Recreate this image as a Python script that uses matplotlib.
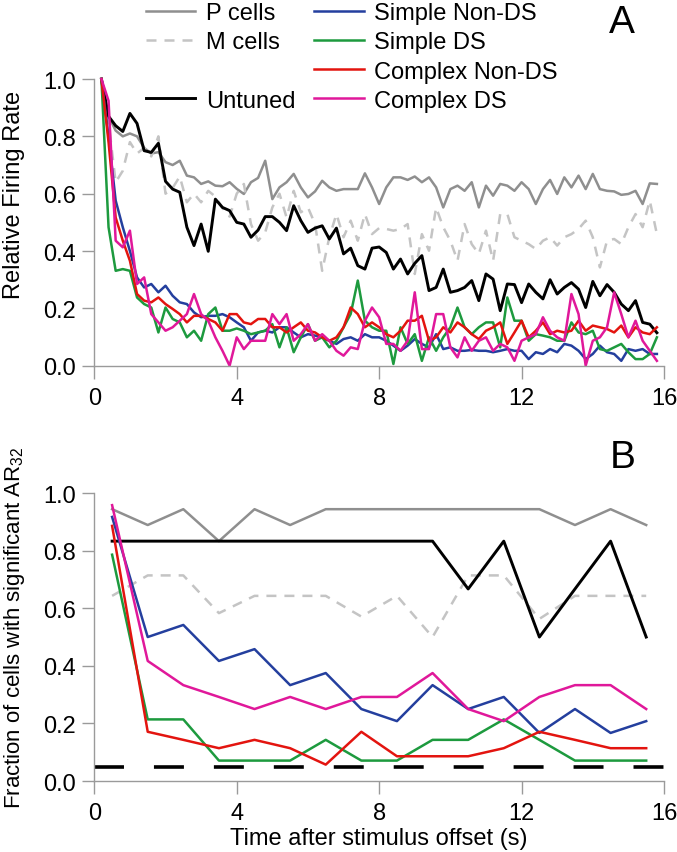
import numpy as np
import matplotlib
matplotlib.use("Agg")
import matplotlib.pyplot as plt
from matplotlib.lines import Line2D

plt.rcParams["font.family"] = ["Liberation Sans", "DejaVu Sans"]
plt.rcParams["mathtext.fontset"] = "custom"
plt.rcParams["mathtext.rm"] = "Liberation Sans"
plt.rcParams["mathtext.default"] = "regular"

# ---- panel A: relative firing rate, 0.2 s bins ----
time_a = np.round(np.arange(1, 80) * 0.2, 1)

p_cells_a = [
    1.0, 0.87, 0.82, 0.80, 0.81, 0.80, 0.76, 0.74, 0.745, 0.71,
    0.70, 0.715, 0.663, 0.657, 0.634, 0.643, 0.628, 0.626, 0.64, 0.617,
    0.599, 0.64, 0.655, 0.715, 0.581, 0.622, 0.64, 0.669, 0.622, 0.587,
    0.608, 0.645, 0.622, 0.61, 0.616, 0.616, 0.616, 0.671, 0.622, 0.564,
    0.622, 0.657, 0.657, 0.648, 0.66, 0.64, 0.657, 0.622, 0.552, 0.616,
    0.628, 0.61, 0.64, 0.552, 0.628, 0.593, 0.634, 0.628, 0.61, 0.64,
    0.616, 0.564, 0.616, 0.648, 0.599, 0.657, 0.622, 0.663, 0.616, 0.669,
    0.616, 0.61, 0.608, 0.596, 0.599, 0.61, 0.564, 0.636, 0.634,
]
m_cells_a = [
    1.0, 0.85, 0.64, 0.68, 0.78, 0.74, 0.76, 0.73, 0.80, 0.60,
    0.62, 0.66, 0.57, 0.60, 0.57, 0.61, 0.59, 0.55, 0.52, 0.60,
    0.634, 0.494, 0.436, 0.465, 0.552, 0.60, 0.517, 0.61, 0.535, 0.552,
    0.494, 0.331, 0.448, 0.529, 0.448, 0.506, 0.436, 0.529, 0.459, 0.48,
    0.477, 0.471, 0.477, 0.494, 0.32, 0.459, 0.401, 0.552, 0.483, 0.436,
    0.366, 0.494, 0.424, 0.39, 0.471, 0.366, 0.529, 0.529, 0.448, 0.436,
    0.424, 0.407, 0.436, 0.448, 0.419, 0.448, 0.459, 0.477, 0.506, 0.448,
    0.343, 0.436, 0.442, 0.424, 0.483, 0.529, 0.483, 0.576, 0.459,
]
untuned_a = [
    1.0, 0.87, 0.837, 0.817, 0.88, 0.845, 0.75, 0.744, 0.776, 0.643,
    0.616, 0.605, 0.483, 0.419, 0.494, 0.399, 0.581, 0.552, 0.541, 0.50,
    0.494, 0.448, 0.473, 0.52, 0.52, 0.50, 0.471, 0.558, 0.506, 0.465,
    0.48, 0.488, 0.442, 0.48, 0.39, 0.41, 0.349, 0.337, 0.41, 0.414,
    0.395, 0.337, 0.372, 0.32, 0.357, 0.384, 0.262, 0.273, 0.337, 0.256,
    0.262, 0.273, 0.297, 0.227, 0.32, 0.302, 0.192, 0.285, 0.283, 0.22,
    0.285, 0.256, 0.233, 0.30, 0.25, 0.273, 0.29, 0.267, 0.203, 0.294,
    0.244, 0.283, 0.256, 0.215, 0.192, 0.227, 0.151, 0.145, 0.115,
]
simple_nds_a = [
    1.0, 0.80, 0.576, 0.483, 0.40, 0.308, 0.273, 0.285, 0.256, 0.279,
    0.244, 0.221, 0.215, 0.186, 0.169, 0.174, 0.174, 0.18, 0.169, 0.151,
    0.134, 0.087, 0.116, 0.122, 0.116, 0.134, 0.134, 0.116, 0.099, 0.11,
    0.105, 0.099, 0.087, 0.076, 0.093, 0.099, 0.087, 0.11, 0.099, 0.099,
    0.087, 0.07, 0.052, 0.07, 0.093, 0.076, 0.064, 0.11, 0.058, 0.064,
    0.052, 0.052, 0.055, 0.052, 0.052, 0.047, 0.052, 0.058, 0.052, 0.052,
    0.023, 0.047, 0.041, 0.058, 0.047, 0.076, 0.07, 0.052, 0.023, 0.041,
    0.07, 0.047, 0.041, 0.017, 0.058, 0.052, 0.058, 0.041, 0.041,
]
simple_ds_a = [
    1.0, 0.483, 0.331, 0.337, 0.331, 0.238, 0.215, 0.203, 0.116, 0.203,
    0.163, 0.151, 0.099, 0.122, 0.087, 0.18, 0.203, 0.122, 0.122, 0.13,
    0.122, 0.11, 0.116, 0.122, 0.145, 0.064, 0.134, 0.047, 0.099, 0.145,
    0.087, 0.099, 0.064, 0.087, 0.134, 0.18, 0.297, 0.157, 0.134, 0.122,
    0.122, 0.006, 0.134, 0.076, 0.11, 0.017, 0.099, 0.052, 0.099, 0.134,
    0.203, 0.134, 0.11, 0.134, 0.151, 0.151, 0.064, 0.238, 0.157, 0.157,
    0.087, 0.11, 0.105, 0.099, 0.087, 0.087, 0.151, 0.116, 0.11, 0.122,
    0.058, 0.052, 0.064, 0.076, 0.047, 0.023, 0.023, 0.041, 0.099,
]
complex_nds_a = [
    1.0, 0.78, 0.517, 0.436, 0.366, 0.25, 0.227, 0.221, 0.238, 0.215,
    0.198, 0.18, 0.151, 0.174, 0.174, 0.163, 0.151, 0.122, 0.18, 0.18,
    0.151, 0.145, 0.163, 0.163, 0.134, 0.134, 0.116, 0.134, 0.151, 0.122,
    0.116, 0.099, 0.087, 0.099, 0.134, 0.203, 0.18, 0.134, 0.151, 0.134,
    0.11, 0.099, 0.122, 0.157, 0.157, 0.174, 0.087, 0.099, 0.134, 0.116,
    0.151, 0.134, 0.11, 0.093, 0.122, 0.134, 0.151, 0.076, 0.116, 0.157,
    0.099, 0.122, 0.151, 0.11, 0.122, 0.116, 0.122, 0.157, 0.122, 0.14,
    0.134, 0.128, 0.116, 0.14, 0.099, 0.134, 0.116, 0.11, 0.134,
]
complex_ds_a = [
    1.0, 0.924, 0.436, 0.413, 0.471, 0.285, 0.308, 0.18, 0.151, 0.122,
    0.134, 0.157, 0.18, 0.25, 0.18, 0.157, 0.099, 0.052, 0.0, 0.099,
    0.058, 0.087, 0.087, 0.087, 0.18, 0.145, 0.18, 0.087, 0.11, 0.145,
    0.087, 0.11, 0.087, 0.052, 0.035, 0.064, 0.058, 0.157, 0.203, 0.169,
    0.076, 0.076, 0.052, 0.087, 0.256, 0.058, 0.058, 0.18, 0.18, 0.064,
    0.029, 0.099, 0.052, 0.087, 0.099, 0.052, 0.076, 0.064, 0.017, 0.087,
    0.099, 0.11, 0.169, 0.122, 0.099, 0.087, 0.25, 0.18, 0.0, 0.087,
    0.099, 0.134, 0.256, 0.18, 0.099, 0.157, 0.087, 0.052, 0.017,
]

# ---- panel B: fraction of cells with significant AR32, 1 s bins ----
time_b = np.arange(16) + 0.5

p_cells_b = [0.944, 0.889, 0.944, 0.833, 0.944, 0.889, 0.944, 0.944,
             0.944, 0.944, 0.944, 0.944, 0.944, 0.889, 0.944, 0.889]
m_cells_b = [0.643, 0.714, 0.714, 0.583, 0.643, 0.643, 0.643, 0.571,
             0.643, 0.5, 0.714, 0.714, 0.563, 0.643, 0.643, 0.643]
untuned_b = [0.833, 0.833, 0.833, 0.833, 0.833, 0.833, 0.833, 0.833,
             0.833, 0.833, 0.667, 0.833, 0.5, 0.667, 0.833, 0.5]
simple_nds_b = [0.917, 0.5, 0.542, 0.417, 0.458, 0.333, 0.375, 0.25,
                0.208, 0.333, 0.25, 0.292, 0.167, 0.25, 0.167, 0.208]
simple_ds_b = [0.786, 0.214, 0.214, 0.071, 0.071, 0.071, 0.143, 0.071,
               0.071, 0.143, 0.143, 0.214, 0.143, 0.071, 0.071, 0.071]
complex_nds_b = [0.886, 0.171, 0.143, 0.114, 0.143, 0.114, 0.057, 0.171,
                 0.086, 0.086, 0.086, 0.114, 0.171, 0.143, 0.114, 0.114]
complex_ds_b = [0.958, 0.417, 0.333, 0.292, 0.25, 0.292, 0.25, 0.292,
                0.292, 0.375, 0.25, 0.208, 0.292, 0.333, 0.333, 0.25]
sig_level = 0.05

labels = ["P cells", "M cells", "Untuned", "Simple Non-DS", "Simple DS",
          "Complex Non-DS", "Complex DS"]
colors = ["#8f8f8f", "#c4c4c4", "#000000", "#243f9e", "#1d9a3e",
          "#e3140f", "#e0189a"]
styles = ["-", "--", "-", "-", "-", "-", "-"]

spine_gray = "#9a9a9a"
fs = 17

fig = plt.figure(figsize=(6.77, 8.53), dpi=100)
ax_a = fig.add_axes([0.1393, 0.5701, 0.8415, 0.3361])
ax_b = fig.add_axes([0.1393, 0.0832, 0.8415, 0.3376])

series_a = [p_cells_a, m_cells_a, untuned_a, simple_nds_a, simple_ds_a,
            complex_nds_a, complex_ds_a]
series_b = [p_cells_b, m_cells_b, untuned_b, simple_nds_b, simple_ds_b,
            complex_nds_b, complex_ds_b]

handles = []
for vals_a, vals_b, lab, col, ls in zip(series_a, series_b, labels, colors, styles):
    kw = dict(color=col, lw=2.1 if col == "#000000" else 1.8)
    if ls == "--":
        kw["dashes"] = (4.0, 3.2)
    ax_a.plot(time_a, vals_a, clip_on=False, **kw)
    ax_b.plot(time_b, vals_b, clip_on=False, **kw)
    handles.append(Line2D([], [], label=lab, **kw))

# significance level
ax_b.plot([0, 16], [sig_level, sig_level], color="black", lw=2.6,
          dashes=(8.3, 8.3), clip_on=False)

for ax in (ax_a, ax_b):
    ax.set_xlim(0, 16)
    ax.set_ylim(0, 1)
    ax.set_xticks([0, 4, 8, 12, 16])
    ax.set_yticks([0, 0.2, 0.4, 0.6, 0.8, 1.0])
    ax.set_yticklabels(["0.0", "0.2", "0.4", "0.6", "0.8", "1.0"])
    for s in ("top", "right"):
        ax.spines[s].set_visible(False)
    for s in ("left", "bottom"):
        ax.spines[s].set_color(spine_gray)
        ax.spines[s].set_linewidth(1.0)
    ax.spines["left"].set_bounds(0, 1)
    ax.spines["bottom"].set_bounds(0, 16)
    ax.tick_params(direction="out", length=9, width=1.0, color=spine_gray,
                   labelsize=fs, pad=4)
    ax.tick_params(axis="x", pad=6)
    ax.patch.set_visible(False)

ax_a.set_ylabel("Relative Firing Rate", fontsize=fs)
ax_a.yaxis.set_label_coords(-0.122, 0.6)
ax_b.set_ylabel("Fraction of cells with significant AR$_{32}$", fontsize=16)
ax_b.yaxis.set_label_coords(-0.118, 0.535)
ax_b.set_xlabel("Time after stimulus offset (s)", fontsize=fs, labelpad=2)

# legend: column 1 has an empty third row
blank = Line2D([], [], color="none", label=" ")
leg_handles = [handles[0], handles[1], blank, handles[2],
               handles[3], handles[4], handles[5], handles[6]]
fig.legend(handles=leg_handles, loc="upper left",
           bbox_to_anchor=(0.215, 0.996), ncol=2, frameon=False, fontsize=fs,
           handlelength=2.1, handletextpad=0.45, columnspacing=0.8,
           labelspacing=0.3, borderaxespad=0.0, borderpad=0.0)

fig.text(0.918, 0.9613, "A", fontsize=28, ha="center", va="baseline")
fig.text(0.9195, 0.4513, "B", fontsize=28, ha="center", va="baseline")

fig.savefig("out.png", dpi=100)
